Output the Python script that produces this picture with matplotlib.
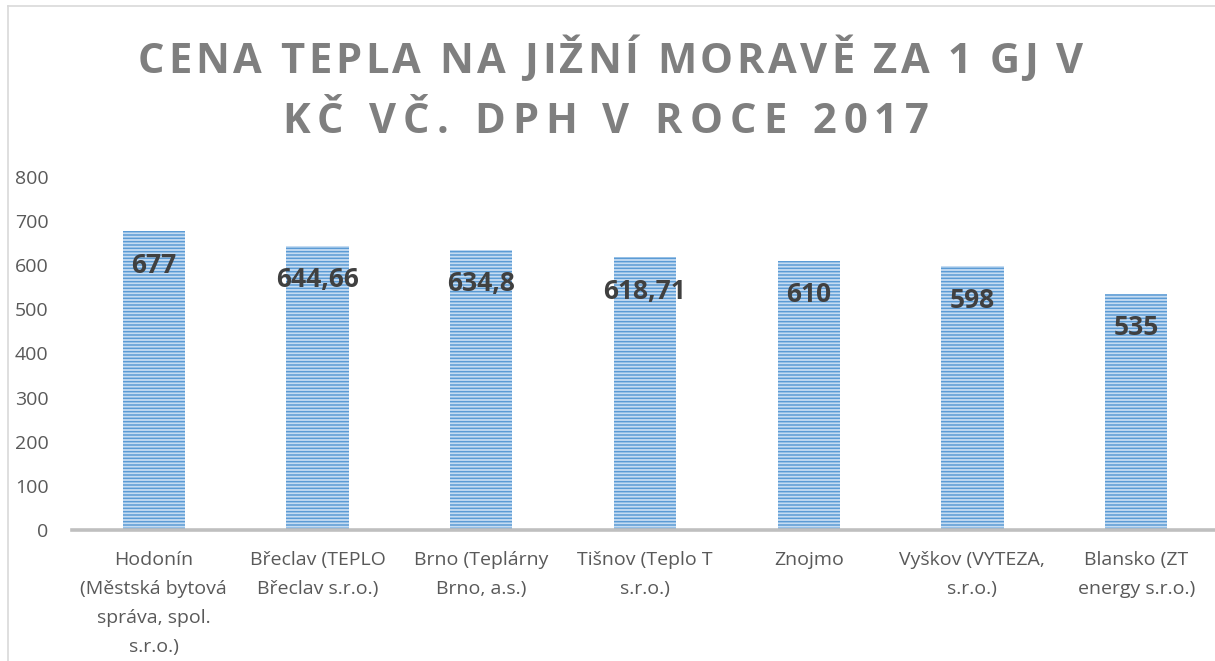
import matplotlib.pyplot as plt
from matplotlib.font_manager import FontProperties
from matplotlib.lines import Line2D

categories = [
    "Hodonín\n(Městská bytová\nspráva, spol.\ns.r.o.)",
    "Břeclav (TEPLO\nBřeclav s.r.o.)",
    "Brno (Teplárny\nBrno, a.s.)",
    "Tišnov (Teplo T\ns.r.o.)",
    "Znojmo",
    "Vyškov (VYTEZA,\ns.r.o.)",
    "Blansko (ZT\nenergy s.r.o.)",
]
prices = [677, 644.66, 634.8, 618.71, 610, 598, 535]
y_ticks = [0, 100, 200, 300, 400, 500, 600, 700, 800]
title_lines = ["CENA TEPLA NA JIŽNÍ MORAVĚ ZA 1 GJ V", "KČ VČ. DPH V ROCE 2017"]

W, H = 1215, 661
plt.rcParams["font.family"] = ["Open Sans", "DejaVu Sans"]
plt.rcParams["hatch.linewidth"] = 1.1

fig = plt.figure(figsize=(W / 100, H / 100), dpi=100)
ax = fig.add_axes([72 / W, 1 - 530 / H, (1218 - 72) / W, (530 - 177) / H])

x = range(len(prices))
ax.bar(x, prices, width=0.38, color="#c6dcf2", hatch="-----", edgecolor="#5b9bd5",
       linewidth=0, zorder=2)

for xi, v in zip(x, prices):
    ax.annotate(f"{v:g}".replace(".", ","), (xi, v), xytext=(0, -24.5),
                textcoords="offset points", ha="center", va="center",
                fontsize=19, fontweight="bold", color="#404040", zorder=3)

ax.set_xlim(-0.5, len(prices) - 0.5)
ax.set_ylim(0, 800)
ax.set_yticks(y_ticks)
ax.set_xticks(list(x))
ax.set_xticklabels(categories, linespacing=1.8)
ax.tick_params(axis="both", length=0, labelsize=14, labelcolor="#595959")
ax.tick_params(axis="y", pad=17)
ax.tick_params(axis="x", pad=15)
for side in ["top", "right", "left"]:
    ax.spines[side].set_visible(False)
ax.spines["bottom"].set_color("#bfbfbf")
ax.spines["bottom"].set_linewidth(2.6)
ax.spines["bottom"].set_zorder(4)


def spaced_title(text, baseline_px, left_px, right_px):
    # letter-spaced title line stretched between left_px and right_px
    renderer = fig.canvas.get_renderer()
    prop = FontProperties(family=["Open Sans", "DejaVu Sans"], weight="bold", size=30)
    widths = [renderer.get_text_width_height_descent(ch, prop, ismath=False)[0] for ch in text]
    spacing = (right_px - left_px - sum(widths)) / (len(text) - 1)
    xpos = left_px
    for ch, w in zip(text, widths):
        fig.text(xpos / W, 1 - baseline_px / H, ch, fontproperties=prop,
                 color="#7f7f7f", ha="left", va="baseline")
        xpos += w + spacing


spaced_title(title_lines[0], 73, 138, 1083)
spaced_title(title_lines[1], 133, 282, 929)

# chart area border
fig.add_artist(Line2D([8 / W, 1], [1 - 6 / H, 1 - 6 / H], color="#d9d9d9", linewidth=1.2))
fig.add_artist(Line2D([8 / W, 8 / W], [0, 1 - 6 / H], color="#d9d9d9", linewidth=1.2))

fig.savefig("out.png", dpi=100)
